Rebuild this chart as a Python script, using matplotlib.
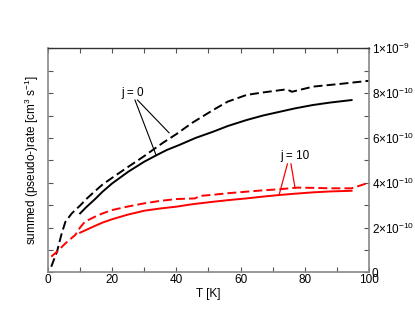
import matplotlib
matplotlib.use("Agg")
import matplotlib.pyplot as plt
from matplotlib.ticker import FixedLocator, FixedFormatter

plt.rcParams['font.family'] = ['Liberation Sans', 'DejaVu Sans']
plt.rcParams['mathtext.fontset'] = 'custom'
plt.rcParams['mathtext.rm'] = 'Liberation Sans'
plt.rcParams['mathtext.it'] = 'Liberation Sans'

# j = 0, dashed (black)
T_j0_dash = [1.0, 2.8, 4.2, 5.4, 7.4, 10, 12, 14.6, 17, 20, 25, 30, 33, 36, 40, 45, 51.5, 56, 61.9, 67, 74.4, 76, 82.6, 91, 100]
R_j0_dash = [0.025, 0.092, 0.17, 0.225, 0.263, 0.298, 0.328, 0.362, 0.392, 0.422, 0.471, 0.519, 0.55, 0.58, 0.617, 0.668, 0.725, 0.762, 0.792, 0.803, 0.817, 0.806, 0.829, 0.841, 0.855]
# j = 0, solid (black)
T_j0_sol = [10, 12, 14.6, 17, 20, 25, 30, 33.7, 37, 41, 46, 51.5, 56, 61.9, 67, 72.3, 77, 82.6, 88, 94.6]
R_j0_sol = [0.263, 0.292, 0.326, 0.36, 0.397, 0.449, 0.494, 0.522, 0.546, 0.569, 0.6, 0.628, 0.653, 0.68, 0.7, 0.717, 0.732, 0.747, 0.758, 0.769]
# j = 10, dashed (red)
T_j10_dash = [1.0, 2.8, 5.4, 8.5, 10, 11.5, 14.6, 17, 20, 25, 30, 35, 40, 45.8, 47.4, 52, 56, 61.9, 67, 72.3, 77.5, 82.6, 87.9, 94.6, 99.3, 100]
R_j10_dash = [0.07, 0.092, 0.129, 0.167, 0.2, 0.226, 0.248, 0.263, 0.278, 0.294, 0.308, 0.319, 0.327, 0.330, 0.341, 0.347, 0.353, 0.36, 0.366, 0.371, 0.378, 0.377, 0.375, 0.375, 0.397, 0.397]
# j = 10, solid (red)
T_j10_sol = [10, 12, 14.6, 17, 20, 25, 30, 35, 40, 45, 51.5, 56, 61.9, 67, 72, 77, 82.6, 88, 94.6]
R_j10_sol = [0.177, 0.19, 0.207, 0.222, 0.237, 0.258, 0.275, 0.285, 0.293, 0.304, 0.315, 0.322, 0.33, 0.338, 0.345, 0.351, 0.357, 0.361, 0.364]

scale = 1e-9
ytick_vals = [0, 0.2e-9, 0.4e-9, 0.6e-9, 0.8e-9, 1.0e-9]
ytick_labels = ['0', r'$2{\times}10^{-10}$', r'$4{\times}10^{-10}$', r'$6{\times}10^{-10}$',
                r'$8{\times}10^{-10}$', r'$1{\times}10^{-9}$']
xtick_vals = [0, 20, 40, 60, 80, 100]

fig = plt.figure(figsize=(4.15, 3.21), dpi=100)
ax = fig.add_axes([0.1157, 0.1517, 0.889 - 0.1157, 0.8495 - 0.1517])

lw = 1.4
dash = (4.6, 2.1)
ax.plot(T_j0_dash, [v * scale for v in R_j0_dash], color='black', lw=lw, dashes=dash)
ax.plot(T_j0_sol, [v * scale for v in R_j0_sol], color='black', lw=lw)
ax.plot(T_j10_dash, [v * scale for v in R_j10_dash], color='red', lw=lw, dashes=dash)
ax.plot(T_j10_sol, [v * scale for v in R_j10_sol], color='red', lw=lw)

# annotations
ax.text(26.5, 0.80e-9, 'j = 0', fontsize=8.5, ha='center', va='center')
ax.plot([27.1, 33.7], [0.769e-9, 0.522e-9], color='black', lw=0.8)
ax.plot([27.9, 37.7], [0.769e-9, 0.623e-9], color='black', lw=0.8)
ax.text(77.1, 0.518e-9, 'j = 10', fontsize=8.5, ha='center', va='center')
ax.plot([72.0, 74.6], [0.345e-9, 0.484e-9], color='red', lw=0.9)
ax.plot([75.7, 77.0], [0.484e-9, 0.375e-9], color='red', lw=0.9)

ax.set_xlim(0, 100)
ax.set_ylim(0, 1e-9)
ax.xaxis.set_major_locator(FixedLocator(xtick_vals))
ax.xaxis.set_minor_locator(FixedLocator(list(range(0, 101, 10))))
ax.yaxis.set_major_locator(FixedLocator(ytick_vals))
ax.yaxis.set_major_formatter(FixedFormatter(ytick_labels))
ax.yaxis.set_minor_locator(FixedLocator([i * 1e-10 for i in range(11)]))

ax.tick_params(which='both', direction='in', top=True, bottom=True, left=True, right=True,
               labelleft=False, labelright=True, length=3.5, width=0.8, color='#555555',
               labelsize=8.5, pad=2)
ax.tick_params(axis='x', pad=1)

for s in ['left', 'bottom', 'right']:
    ax.spines[s].set_color('#888888')
    ax.spines[s].set_linewidth(1.2)
ax.spines['top'].set_color('#333333')
ax.spines['top'].set_linewidth(1.0)

ax.set_xlabel('T [K]', fontsize=8.5, labelpad=2)
ax.set_ylabel(r'summed (pseudo-)rate [cm$^3$ s$^{-1}$]', fontsize=8.5, labelpad=5)

fig.savefig('out.png', dpi=100)
